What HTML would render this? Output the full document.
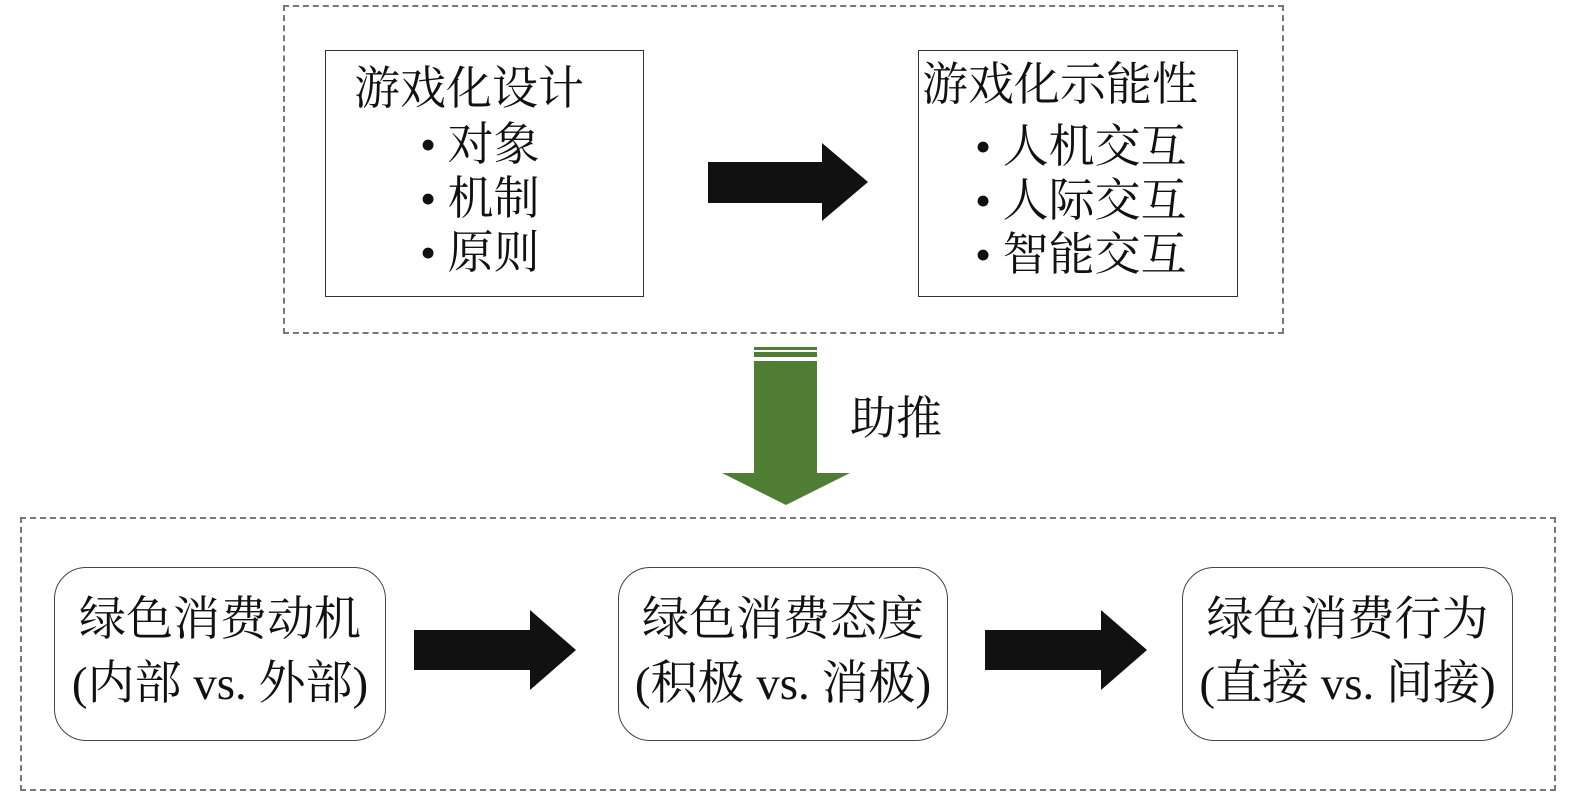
<!DOCTYPE html>
<html><head><meta charset="utf-8"><style>
body{margin:0;width:1575px;height:797px;background:#fff;position:relative;overflow:hidden;font-family:"Liberation Serif","Noto Serif CJK SC",serif;color:#111}
.a{position:absolute}
.dash{position:absolute;border:2px dashed #777;box-sizing:border-box}
.box{position:absolute;border:1.5px solid #333;box-sizing:border-box;background:#fff}
.rb{position:absolute;border:1.5px solid #444;border-radius:32px;box-sizing:border-box;text-align:center;font-size:47px;line-height:64px;padding-top:20px;white-space:nowrap}
.t{position:absolute;font-size:46px;line-height:54px;white-space:nowrap}
</style></head><body>
<div class="dash" style="left:283px;top:5px;width:1001px;height:329px"></div>
<div class="box" style="left:325px;top:50px;width:319px;height:247px"></div>
<div class="t" style="left:354px;top:62px">游戏化设计</div>
<div class="t" style="left:420px;top:118px">• 对象</div>
<div class="t" style="left:420px;top:172px">• 机制</div>
<div class="t" style="left:420px;top:226px">• 原则</div>
<div class="box" style="left:918px;top:50px;width:320px;height:247px"></div>
<div class="t" style="left:922px;top:58px">游戏化示能性</div>
<div class="t" style="left:975px;top:120px">• 人机交互</div>
<div class="t" style="left:975px;top:174px">• 人际交互</div>
<div class="t" style="left:975px;top:228px">• 智能交互</div>
<svg class="a" style="left:0;top:0" width="1575" height="797">
<polygon points="708,162 822,162 822,143 868,182 822,221 822,203 708,203" fill="#111"/>
<rect x="754" y="347" width="63" height="3" fill="#4f7d34"/>
<rect x="754" y="352" width="63" height="5" fill="#4f7d34"/>
<polygon points="754,361 817,361 817,473 850,473 786,505 722,473 754,473" fill="#4f7d34"/>
<polygon points="414,630 530,630 530,610 576,650 530,690 530,670 414,670" fill="#111"/>
<polygon points="985,630 1101,630 1101,610 1147,650 1101,690 1101,670 985,670" fill="#111"/>
</svg>
<div class="t" style="left:850px;top:392px">助推</div>
<div class="dash" style="left:20px;top:517px;width:1536px;height:274px"></div>
<div class="rb" style="left:54px;top:567px;width:332px;height:174px">绿色消费动机<br>(内部 vs. 外部)</div>
<div class="rb" style="left:618px;top:567px;width:330px;height:174px">绿色消费态度<br>(积极 vs. 消极)</div>
<div class="rb" style="left:1182px;top:567px;width:331px;height:174px">绿色消费行为<br>(直接 vs. 间接)</div>
</body></html>
